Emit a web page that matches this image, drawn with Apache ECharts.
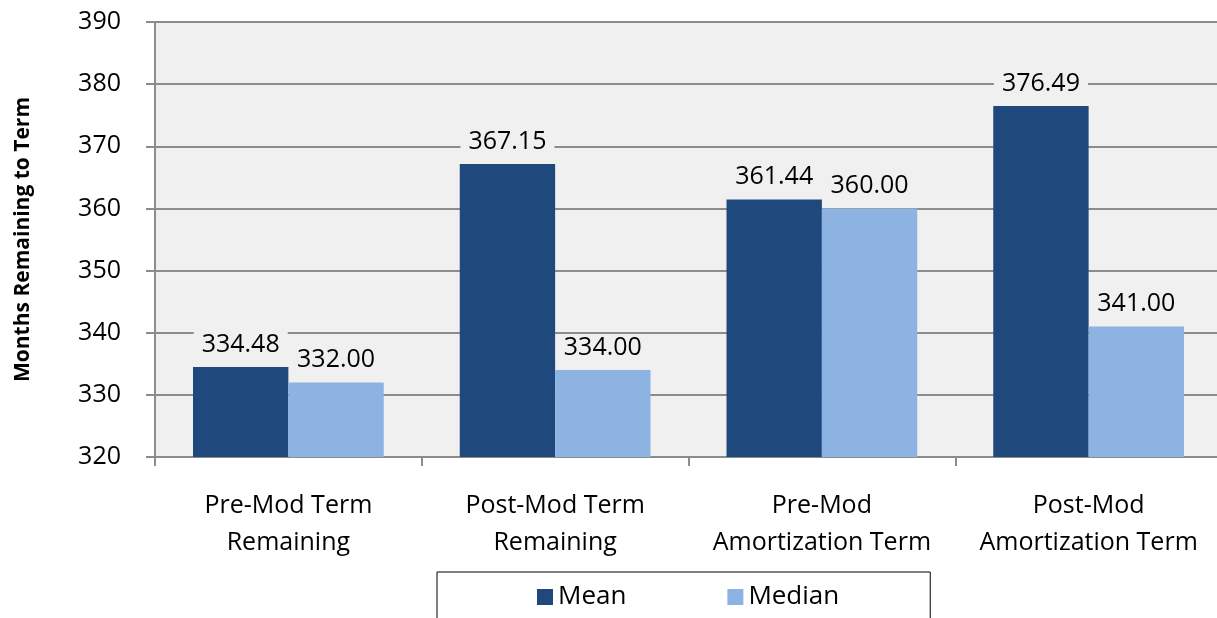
<!DOCTYPE html>
<html>
<head>
<meta charset="utf-8">
<script src="https://cdn.jsdelivr.net/npm/echarts@6/dist/echarts.min.js"></script>
<style>
  html, body { margin: 0; padding: 0; background: #fff; }
  #chart { width: 1217px; height: 618px; }
</style>
</head>
<body>
<div id="chart"></div>
<script>
// categories + values
var categories = ['Pre-Mod Term\nRemaining', 'Post-Mod Term\nRemaining', 'Pre-Mod\nAmortization Term', 'Post-Mod\nAmortization Term'];
var meanValues = [334.48, 367.15, 361.44, 376.49];
var medianValues = [332.00, 334.00, 360.00, 341.00];

var FONT = '"Open Sans", "Noto Sans", sans-serif';

var labelStyle = {
  show: true,
  position: 'top',
  distance: 9,
  fontFamily: FONT,
  fontSize: 25,
  color: '#000',
  backgroundColor: '#F0F0F0',
  padding: [1, 8],
  formatter: function (p) { return p.value.toFixed(2); }
};

var chart = echarts.init(document.getElementById('chart'));
chart.setOption({
  animation: false,
  textStyle: { fontFamily: FONT },
  grid: {
    left: 155,
    top: 22,
    width: 1067,
    height: 435,
    outerBoundsMode: 'none',
    containLabel: false,
    show: true,
    backgroundColor: '#F0F0F0',
    borderWidth: 0
  },
  legend: {
    left: 437,
    top: 572,
    padding: [12, 91, 30, 100],
    borderColor: '#000',
    borderWidth: 1,
    itemWidth: 16,
    itemHeight: 16,
    itemGap: 101,
    icon: 'rect',
    textStyle: { fontFamily: FONT, fontSize: 26, color: '#000' },
    data: ['Mean', 'Median']
  },
  xAxis: {
    type: 'category',
    data: categories,
    axisLine: { lineStyle: { color: '#8c8c8c', width: 2 } },
    axisTick: { show: true, interval: 0, length: 9, lineStyle: { color: '#8c8c8c', width: 2 } },
    axisLabel: { interval: 0, fontFamily: FONT, fontSize: 25, color: '#000', margin: 30, lineHeight: 37 }
  },
  yAxis: {
    type: 'value',
    min: 320,
    max: 390,
    interval: 10,
    name: 'Months Remaining to Term',
    nameLocation: 'middle',
    nameGap: 121,
    nameTextStyle: { fontFamily: FONT, fontSize: 21, fontWeight: 'bold', color: '#000' },
    axisLine: { show: true, lineStyle: { color: '#8c8c8c', width: 2 } },
    axisTick: { show: true, length: 9, lineStyle: { color: '#8c8c8c', width: 2 } },
    axisLabel: { fontFamily: FONT, fontSize: 25, color: '#000', margin: 34 },
    splitLine: { lineStyle: { color: '#8c8c8c', width: 2 } }
  },
  series: [
    {
      name: 'Mean',
      type: 'bar',
      data: meanValues,
      barGap: '0%',
      barCategoryGap: '28.5%',
      itemStyle: { color: '#1F497D' },
      label: labelStyle
    },
    {
      name: 'Median',
      type: 'bar',
      data: medianValues,
      itemStyle: { color: '#8DB3E2' },
      label: labelStyle
    }
  ]
});
</script>
</body>
</html>
